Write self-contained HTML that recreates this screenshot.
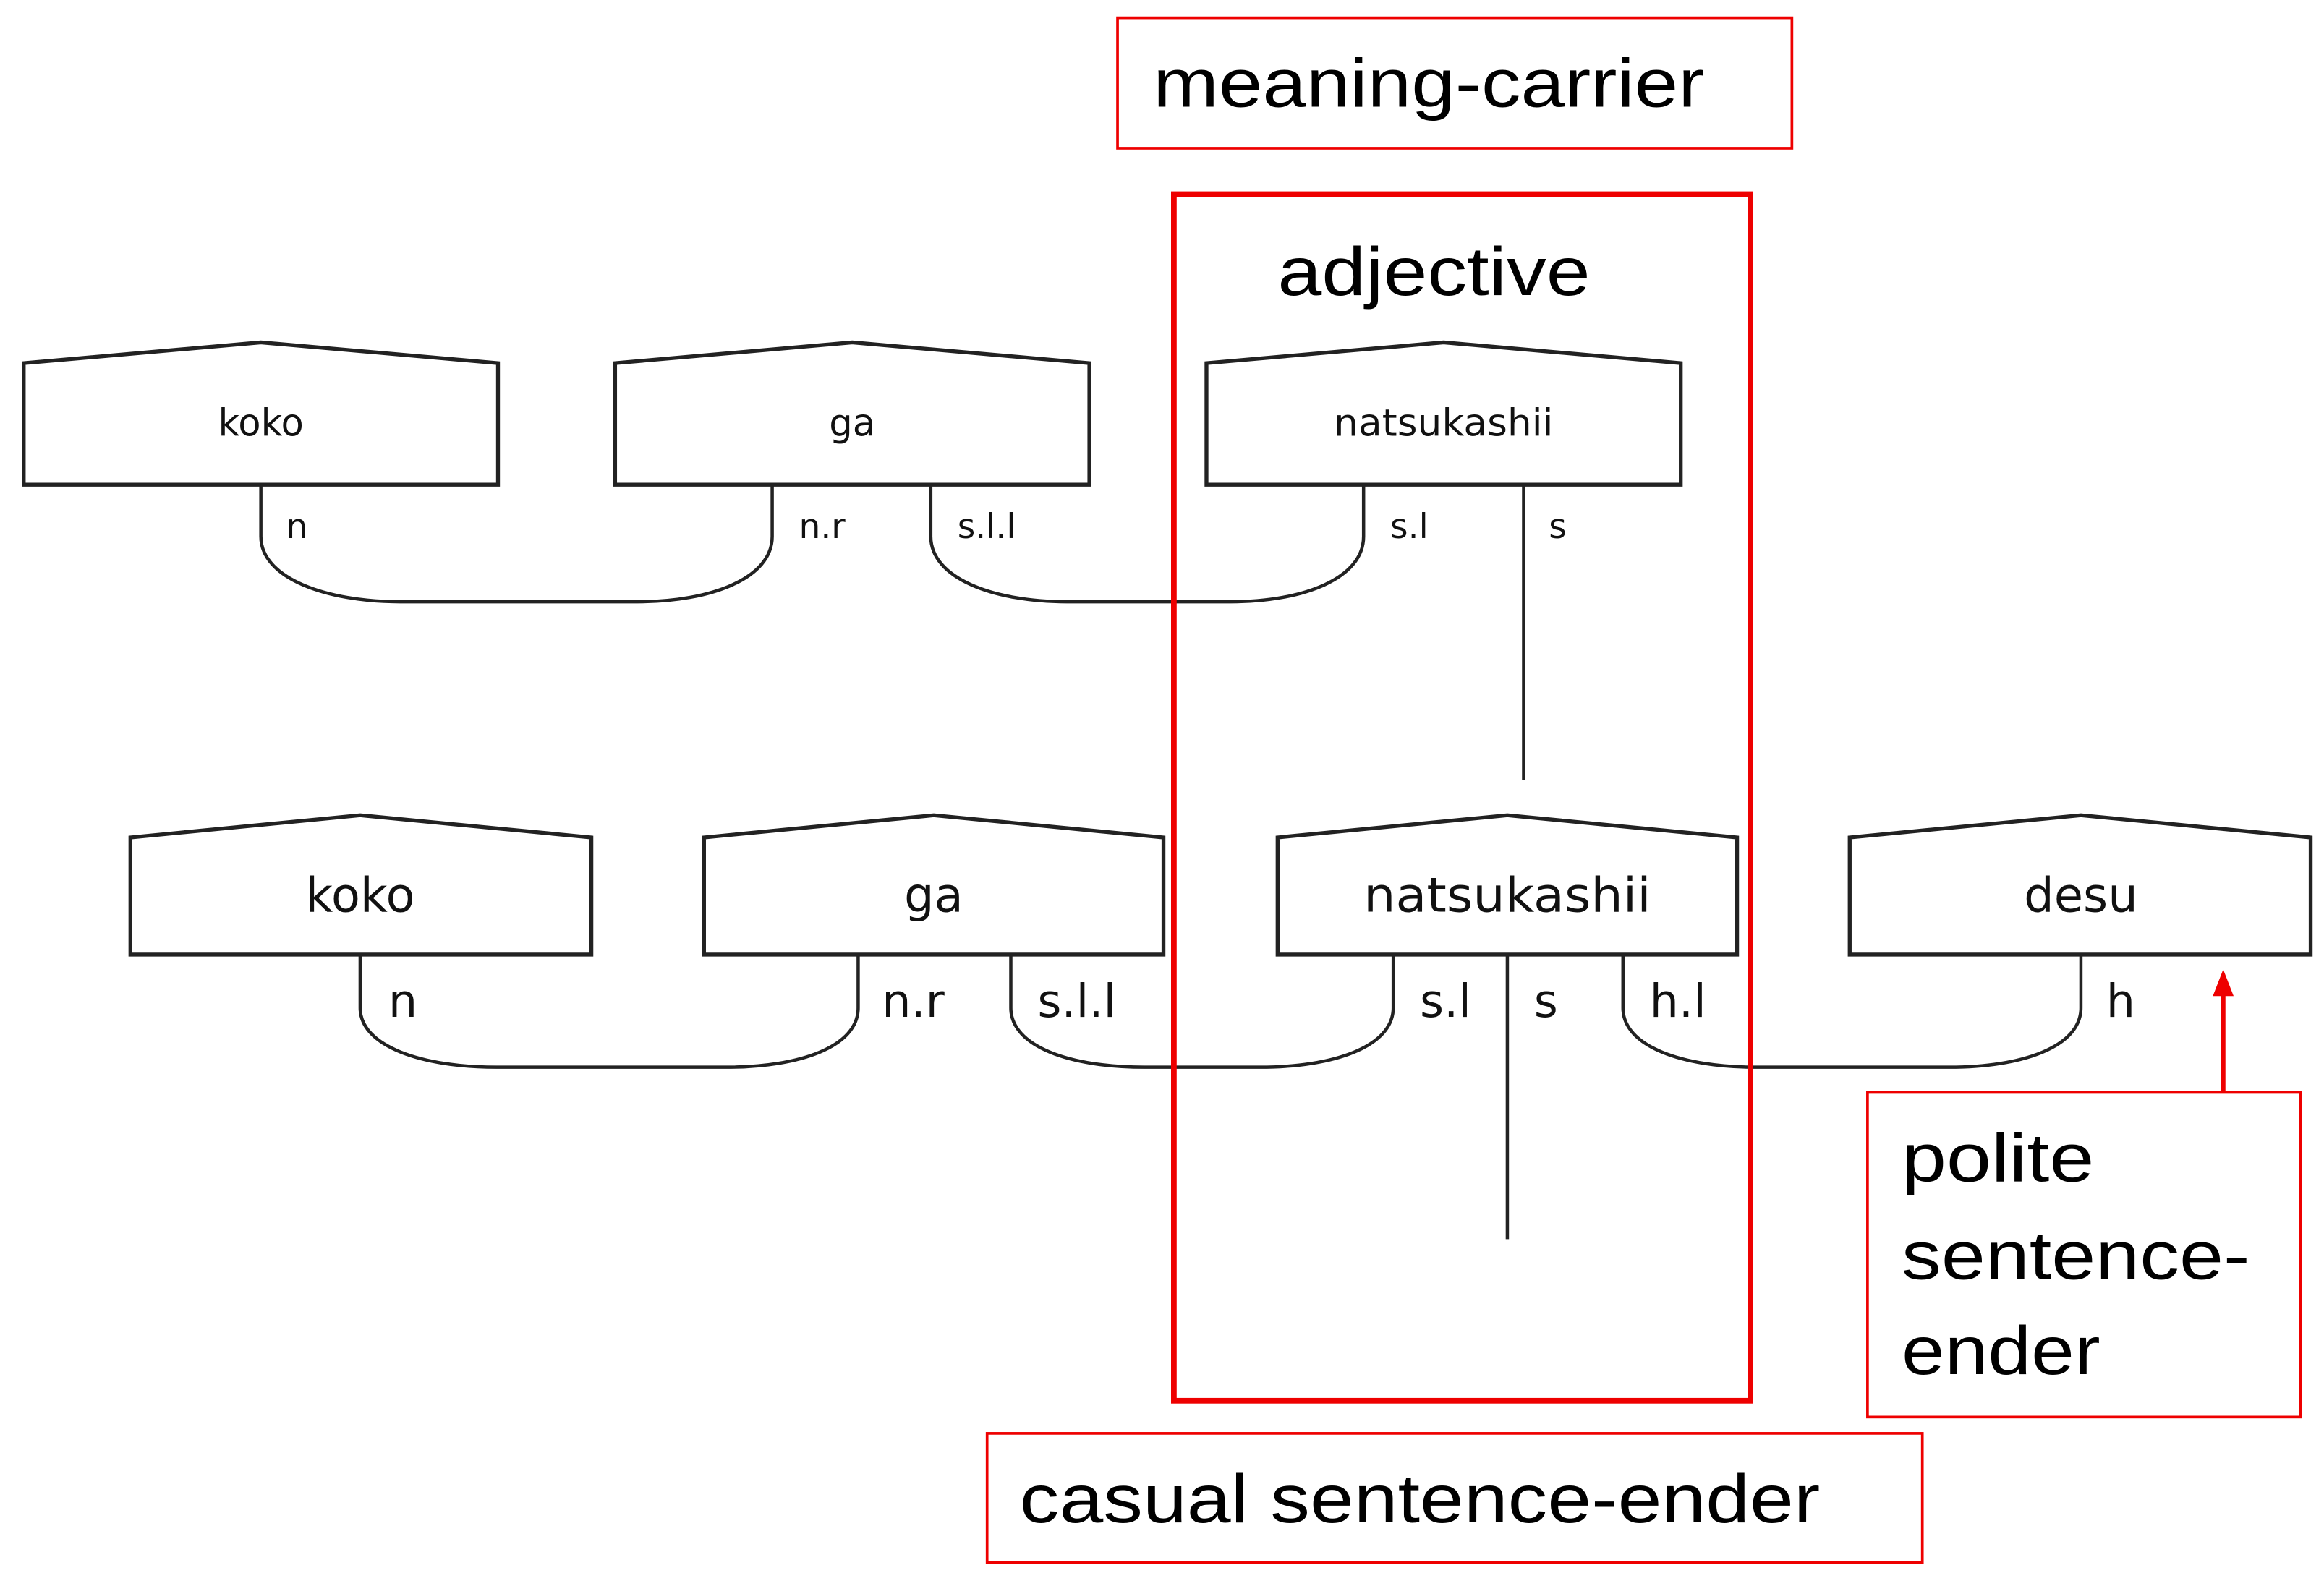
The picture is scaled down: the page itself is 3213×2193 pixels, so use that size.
<!DOCTYPE html>
<html><head><meta charset="utf-8"><style>html,body{margin:0;padding:0;background:#fff}svg{display:block}</style></head>
<body>
<svg width="3213" height="2193" viewBox="0 0 1568 1070" preserveAspectRatio="none" xmlns="http://www.w3.org/2000/svg">
<g fill="#fff" stroke="#222" stroke-width="2.6">
<path d="M16 327 V245 L176 231 L336 245 V327 Z"/>
<path d="M415 327 V245 L575 231 L735 245 V327 Z"/>
<path d="M814 327 V245 L974 231 L1134 245 V327 Z"/>
<path d="M88 644 V565 L243 550 L399 565 V644 Z"/>
<path d="M475 644 V565 L630 550 L785 565 V644 Z"/>
<path d="M862 644 V565 L1017 550 L1172 565 V644 Z"/>
<path d="M1248 644 V565 L1404 550 L1559 565 V644 Z"/>
</g>
<g fill="none" stroke="#222" stroke-width="2.2">
<path d="M176 327 V362 C176 390 220 406 270 406 H430 C480 406 521 390 521 362 V327"/>
<path d="M628 327 V362 C628 390 670 406 720 406 H830 C880 406 920 390 920 362 V327"/>
<path d="M1028 327 V526"/>
<path d="M243 644 V680 C243 706 285 720 335 720 H490 C540 720 579 706 579 680 V644"/>
<path d="M682 644 V680 C682 706 722 720 772 720 H850 C900 720 940 706 940 680 V644"/>
<path d="M1017 644 V836"/>
<path d="M1095 644 V680 C1095 706 1135 720 1185 720 H1315 C1365 720 1404 706 1404 680 V644"/>
</g>
<g font-family="DejaVu Sans, sans-serif" fill="#111">
<g font-size="25" text-anchor="middle">
<text x="176" y="294">koko</text><text x="575" y="294">ga</text><text x="974" y="294" textLength="148" lengthAdjust="spacingAndGlyphs">natsukashii</text>
</g>
<g font-size="23">
<text x="193" y="363">n</text><text x="539" y="363">n.r</text><text x="646" y="363">s.l.l</text>
<text x="938" y="363">s.l</text><text x="1045" y="363">s</text>
</g>
<g font-size="32" text-anchor="middle">
<text x="243" y="615">koko</text><text x="630" y="615">ga</text><text x="1017" y="615" textLength="194" lengthAdjust="spacingAndGlyphs">natsukashii</text><text x="1404" y="615">desu</text>
</g>
<g font-size="31">
<text x="262" y="686">n</text><text x="595" y="686">n.r</text><text x="700" y="686">s.l.l</text>
<text x="958" y="686">s.l</text><text x="1035" y="686">s</text><text x="1113" y="686">h.l</text><text x="1421" y="686">h</text>
</g>
</g>
<g fill="none" stroke="#e00">
<rect x="754" y="12" width="455" height="88" stroke-width="1.8"/>
<rect x="792" y="131" width="389" height="814" stroke-width="3.8"/>
<rect x="666" y="967" width="631" height="87" stroke-width="1.8"/>
<rect x="1260" y="737" width="292" height="219" stroke-width="1.8"/>
<path d="M1500 737 V668" stroke-width="3"/>
</g>
<path d="M1493 672 L1500 654 L1507 672 Z" fill="#e00"/>
<g font-family="Liberation Sans, sans-serif" fill="#000" font-size="46" lengthAdjust="spacingAndGlyphs">
<text x="778" y="72" textLength="372" lengthAdjust="spacingAndGlyphs">meaning-carrier</text>
<text x="862" y="199" textLength="211" lengthAdjust="spacingAndGlyphs">adjective</text>
<text x="688" y="1027" textLength="540" lengthAdjust="spacingAndGlyphs">casual sentence-ender</text>
<text x="1283" y="797" textLength="130" lengthAdjust="spacingAndGlyphs">polite</text>
<text x="1283" y="863" textLength="235" lengthAdjust="spacingAndGlyphs">sentence-</text>
<text x="1283" y="927" textLength="134" lengthAdjust="spacingAndGlyphs">ender</text>
</g>
</svg>
</body></html>
